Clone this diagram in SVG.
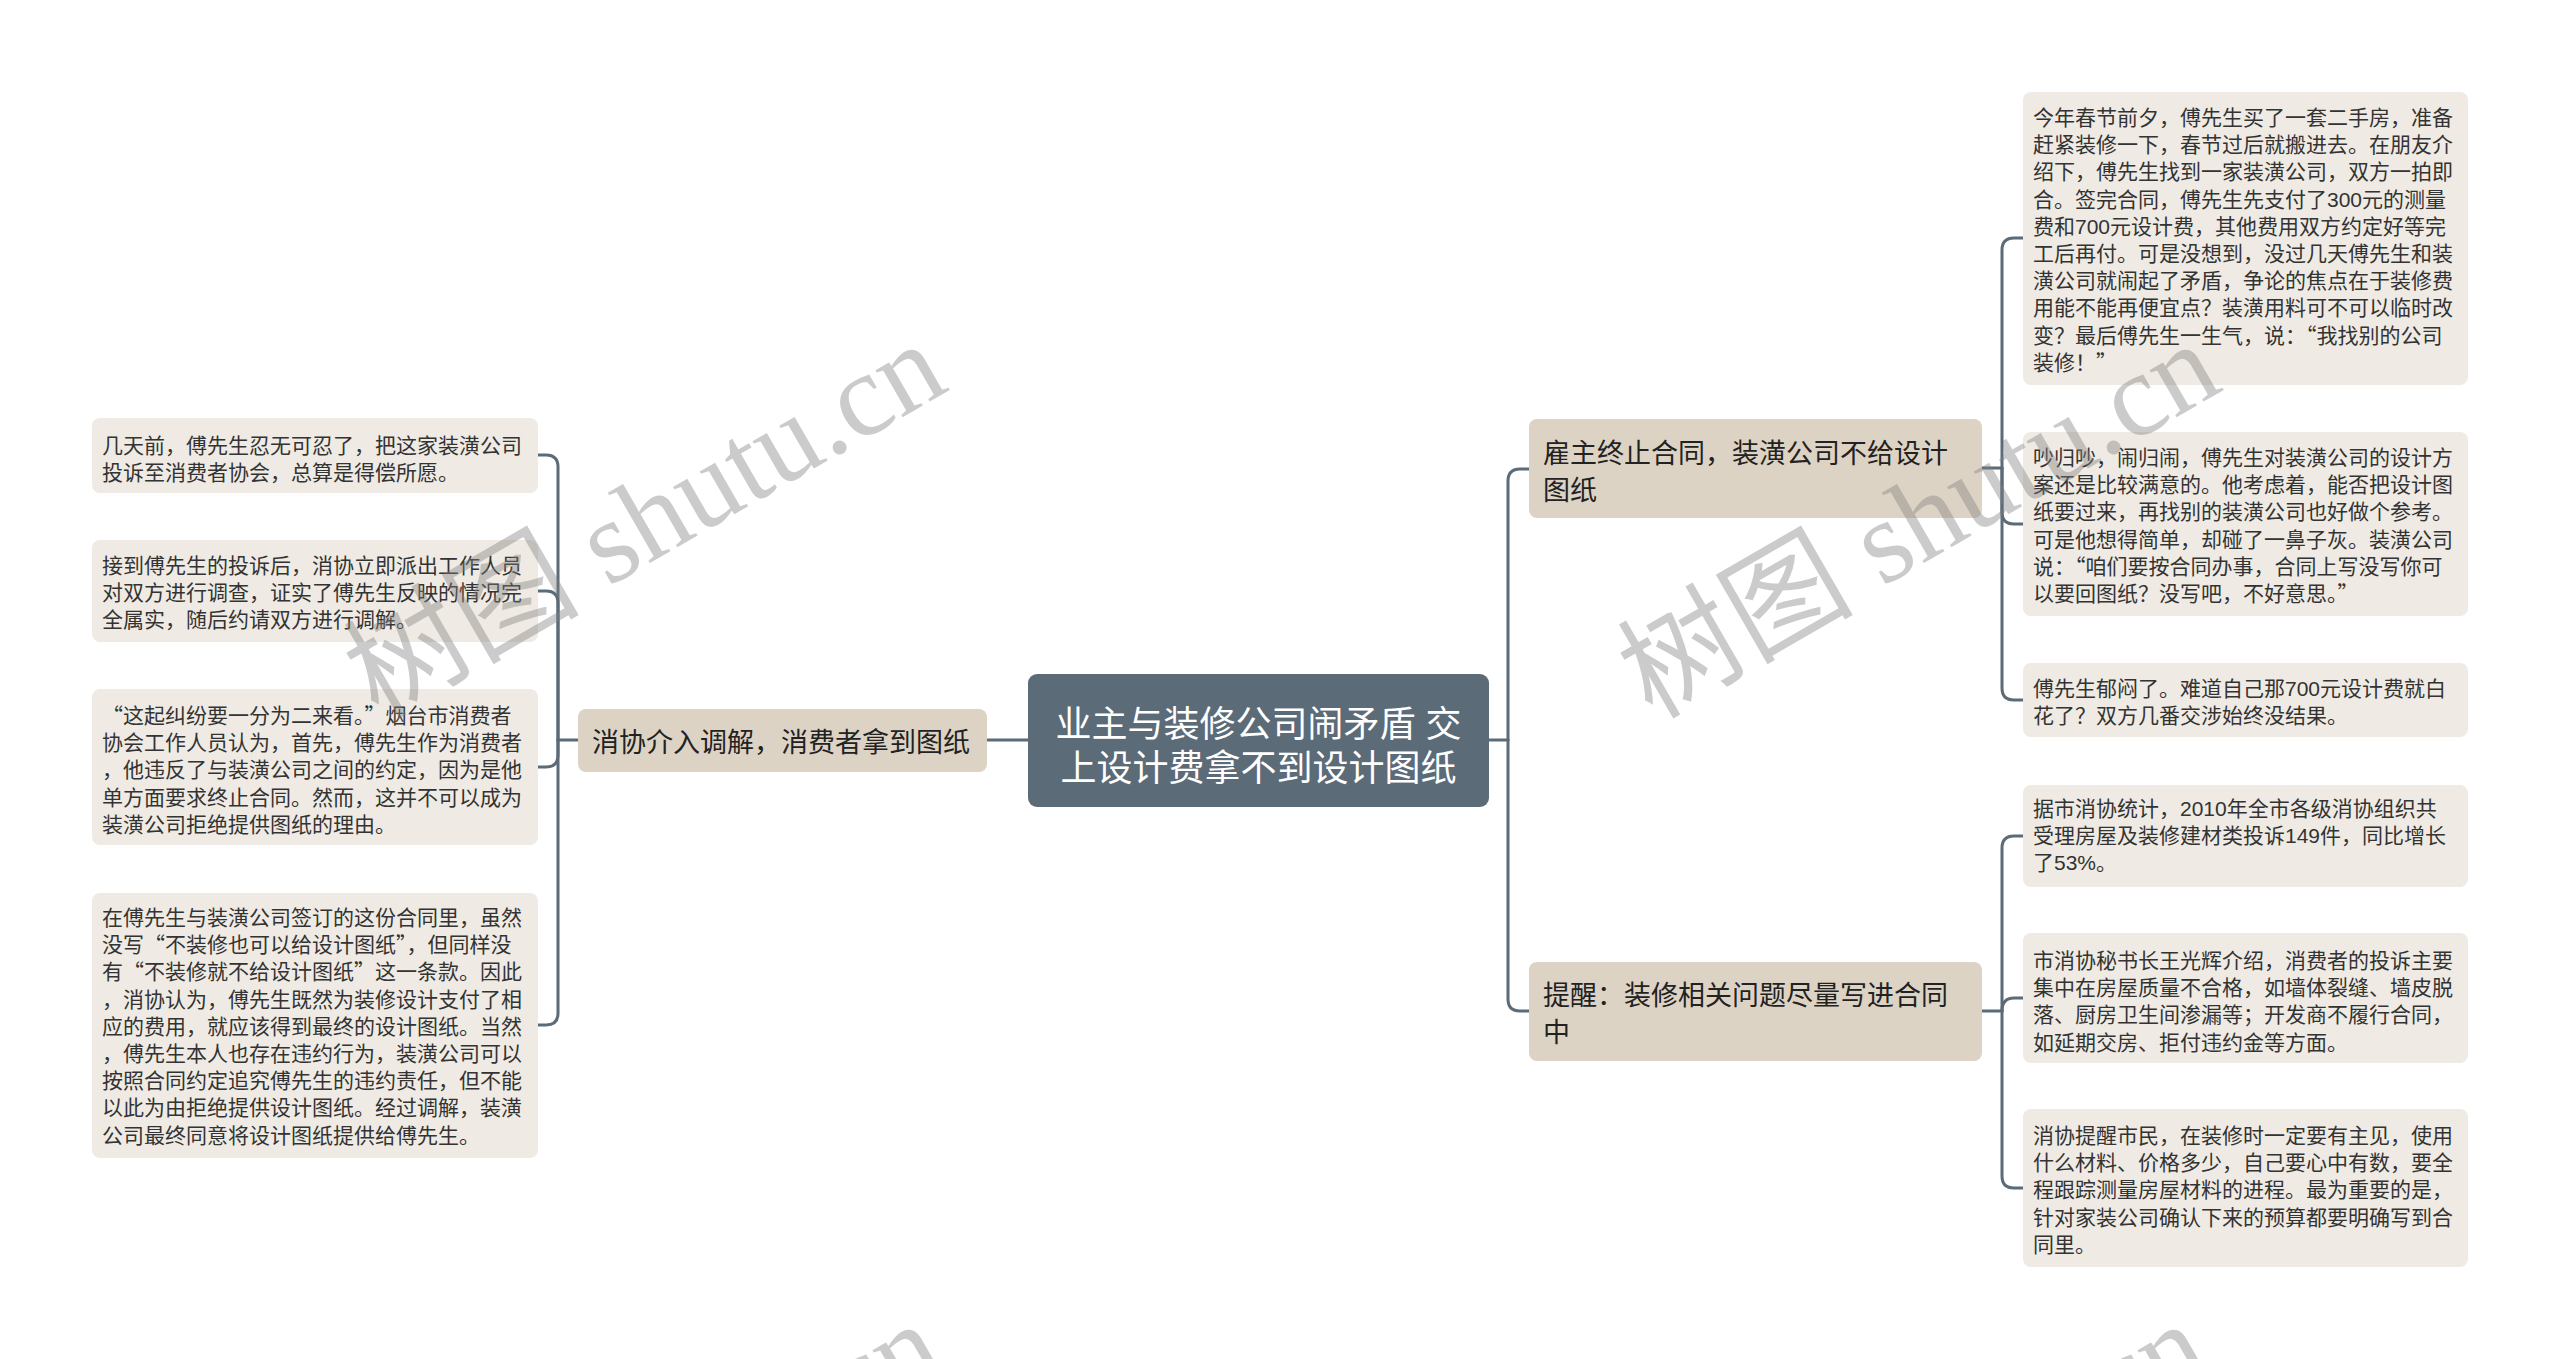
<svg xmlns="http://www.w3.org/2000/svg" width="2560" height="1359" viewBox="0 0 2560 1359">
<style>
.conn{fill:none;stroke:#5b6b78;stroke-width:3;stroke-linecap:round}
.root rect{fill:#5c6b78}
.root text{fill:#ffffff;font-size:36px;text-anchor:middle}
.branch rect{fill:#ddd3c4}
.branch text{fill:#222222;font-size:27px}
.leaf rect{fill:#efebe4}
.leaf text{fill:#333333;font-size:21px}
text{font-family:"Liberation Sans","Noto Sans CJK SC",sans-serif}
.q{font-family:"Noto Sans CJK SC","Liberation Sans",sans-serif}
.wm{fill:#808080;opacity:0.4;font-size:118px;font-family:"Liberation Serif","Noto Sans CJK SC",serif}
</style>
<rect x="0" y="0" width="2560" height="1359" fill="#ffffff"/>
<g id="connectors">
<path class="conn" d="M1028,740 H987"/>
<path class="conn" d="M1489,740 H1508"/>
<path class="conn" d="M1508,740 V481 Q1508,469 1520,469 H1529"/>
<path class="conn" d="M1508,740 V999 Q1508,1011 1520,1011 H1529"/>
<path class="conn" d="M1982,468 H2002"/>
<path class="conn" d="M2002,468 V250 Q2002,238 2014,238 H2023"/>
<path class="conn" d="M2002,468 V512 Q2002,524 2014,524 H2023"/>
<path class="conn" d="M2002,468 V688 Q2002,700 2014,700 H2023"/>
<path class="conn" d="M1982,1011 H2002"/>
<path class="conn" d="M2002,1011 V848 Q2002,836 2014,836 H2023"/>
<path class="conn" d="M2002,1011 Q2002,998 2014,998 H2023"/>
<path class="conn" d="M2002,1011 V1176 Q2002,1188 2014,1188 H2023"/>
<path class="conn" d="M578,740 H558"/>
<path class="conn" d="M558,740 V467 Q558,455 546,455 H538"/>
<path class="conn" d="M558,740 V603 Q558,591 546,591 H538"/>
<path class="conn" d="M558,740 V755 Q558,767 546,767 H538"/>
<path class="conn" d="M558,740 V1013 Q558,1025 546,1025 H538"/>
</g>
<g id="root" class="root">
<rect x="1028" y="674" width="461" height="133" rx="9"/>
<text x="1258.5" y="737">业主与装修公司闹矛盾 交</text>
<text x="1258.5" y="781">上设计费拿不到设计图纸</text>
</g>
<g id="branch-terminate" class="branch">
<rect x="1529" y="419" width="453" height="99" rx="8"/>
<text x="1543" y="463">雇主终止合同，装潢公司不给设计</text>
<text x="1543" y="500">图纸</text>
</g>
<g id="branch-remind" class="branch">
<rect x="1529" y="962" width="453" height="99" rx="8"/>
<text x="1543" y="1005">提醒：装修相关问题尽量写进合同</text>
<text x="1543" y="1042">中</text>
</g>
<g id="branch-mediate" class="branch">
<rect x="578" y="709" width="409" height="63" rx="8"/>
<text x="592" y="752">消协介入调解，消费者拿到图纸</text>
</g>
<g id="leaf-r1" class="leaf">
<rect x="2023" y="92" width="445" height="293" rx="8"/>
<text x="2033" y="125"><tspan x="2033">今年春节前夕，傅先生买了一套二手房，准备</tspan><tspan x="2033" dy="27.2">赶紧装修一下，春节过后就搬进去。在朋友介</tspan><tspan x="2033" dy="27.2">绍下，傅先生找到一家装潢公司，双方一拍即</tspan><tspan x="2033" dy="27.2">合。签完合同，傅先生先支付了300元的测量</tspan><tspan x="2033" dy="27.2">费和700元设计费，其他费用双方约定好等完</tspan><tspan x="2033" dy="27.2">工后再付。可是没想到，没过几天傅先生和装</tspan><tspan x="2033" dy="27.2">潢公司就闹起了矛盾，争论的焦点在于装修费</tspan><tspan x="2033" dy="27.2">用能不能再便宜点？装潢用料可不可以临时改</tspan><tspan x="2033" dy="27.2">变？最后傅先生一生气，说：<tspan class="q">“</tspan>我找别的公司</tspan><tspan x="2033" dy="27.2">装修！<tspan class="q">”</tspan></tspan></text>
</g>
<g id="leaf-r2" class="leaf">
<rect x="2023" y="432" width="445" height="184" rx="8"/>
<text x="2033" y="465"><tspan x="2033">吵归吵，闹归闹，傅先生对装潢公司的设计方</tspan><tspan x="2033" dy="27.2">案还是比较满意的。他考虑着，能否把设计图</tspan><tspan x="2033" dy="27.2">纸要过来，再找别的装潢公司也好做个参考。</tspan><tspan x="2033" dy="27.2">可是他想得简单，却碰了一鼻子灰。装潢公司</tspan><tspan x="2033" dy="27.2">说：<tspan class="q">“</tspan>咱们要按合同办事，合同上写没写你可</tspan><tspan x="2033" dy="27.2">以要回图纸？没写吧，不好意思。<tspan class="q">”</tspan></tspan></text>
</g>
<g id="leaf-r3" class="leaf">
<rect x="2023" y="663" width="445" height="74" rx="8"/>
<text x="2033" y="696"><tspan x="2033">傅先生郁闷了。难道自己那700元设计费就白</tspan><tspan x="2033" dy="27.2">花了？双方几番交涉始终没结果。</tspan></text>
</g>
<g id="leaf-r4" class="leaf">
<rect x="2023" y="785" width="445" height="102" rx="8"/>
<text x="2033" y="816"><tspan x="2033">据市消协统计，2010年全市各级消协组织共</tspan><tspan x="2033" dy="27.2">受理房屋及装修建材类投诉149件，同比增长</tspan><tspan x="2033" dy="27.2">了53%。</tspan></text>
</g>
<g id="leaf-r5" class="leaf">
<rect x="2023" y="933" width="445" height="130" rx="8"/>
<text x="2033" y="968"><tspan x="2033">市消协秘书长王光辉介绍，消费者的投诉主要</tspan><tspan x="2033" dy="27.2">集中在房屋质量不合格，如墙体裂缝、墙皮脱</tspan><tspan x="2033" dy="27.2">落、厨房卫生间渗漏等；开发商不履行合同，</tspan><tspan x="2033" dy="27.2">如延期交房、拒付违约金等方面。</tspan></text>
</g>
<g id="leaf-r6" class="leaf">
<rect x="2023" y="1109" width="445" height="158" rx="8"/>
<text x="2033" y="1143"><tspan x="2033">消协提醒市民，在装修时一定要有主见，使用</tspan><tspan x="2033" dy="27.2">什么材料、价格多少，自己要心中有数，要全</tspan><tspan x="2033" dy="27.2">程跟踪测量房屋材料的进程。最为重要的是，</tspan><tspan x="2033" dy="27.2">针对家装公司确认下来的预算都要明确写到合</tspan><tspan x="2033" dy="27.2">同里。</tspan></text>
</g>
<g id="leaf-l1" class="leaf">
<rect x="92" y="418" width="446" height="75" rx="8"/>
<text x="102" y="453"><tspan x="102">几天前，傅先生忍无可忍了，把这家装潢公司</tspan><tspan x="102" dy="27.2">投诉至消费者协会，总算是得偿所愿。</tspan></text>
</g>
<g id="leaf-l2" class="leaf">
<rect x="92" y="540" width="446" height="102" rx="8"/>
<text x="102" y="573"><tspan x="102">接到傅先生的投诉后，消协立即派出工作人员</tspan><tspan x="102" dy="27.2">对双方进行调查，证实了傅先生反映的情况完</tspan><tspan x="102" dy="27.2">全属实，随后约请双方进行调解。</tspan></text>
</g>
<g id="leaf-l3" class="leaf">
<rect x="92" y="689" width="446" height="156" rx="8"/>
<text x="102" y="723"><tspan x="102"><tspan class="q">“</tspan>这起纠纷要一分为二来看。<tspan class="q">”</tspan>烟台市消费者</tspan><tspan x="102" dy="27.2">协会工作人员认为，首先，傅先生作为消费者</tspan><tspan x="102" dy="27.2">，他违反了与装潢公司之间的约定，因为是他</tspan><tspan x="102" dy="27.2">单方面要求终止合同。然而，这并不可以成为</tspan><tspan x="102" dy="27.2">装潢公司拒绝提供图纸的理由。</tspan></text>
</g>
<g id="leaf-l4" class="leaf">
<rect x="92" y="893" width="446" height="265" rx="8"/>
<text x="102" y="925"><tspan x="102">在傅先生与装潢公司签订的这份合同里，虽然</tspan><tspan x="102" dy="27.2">没写<tspan class="q">“</tspan>不装修也可以给设计图纸<tspan class="q">”</tspan>，但同样没</tspan><tspan x="102" dy="27.2">有<tspan class="q">“</tspan>不装修就不给设计图纸<tspan class="q">”</tspan>这一条款。因此</tspan><tspan x="102" dy="27.2">，消协认为，傅先生既然为装修设计支付了相</tspan><tspan x="102" dy="27.2">应的费用，就应该得到最终的设计图纸。当然</tspan><tspan x="102" dy="27.2">，傅先生本人也存在违约行为，装潢公司可以</tspan><tspan x="102" dy="27.2">按照合同约定追究傅先生的违约责任，但不能</tspan><tspan x="102" dy="27.2">以此为由拒绝提供设计图纸。经过调解，装潢</tspan><tspan x="102" dy="27.2">公司最终同意将设计图纸提供给傅先生。</tspan></text>
</g>
<g id="watermark">
<text class="wm" x="378" y="720" transform="rotate(-30 378 720)">树图 shutu.cn</text>
<text class="wm" x="1652" y="720" transform="rotate(-30 1652 720)">树图 shutu.cn</text>
<text class="wm" x="375" y="1700" transform="rotate(-30 375 1700)">树图 shutu.cn</text>
<text class="wm" x="1640" y="1700" transform="rotate(-30 1640 1700)">树图 shutu.cn</text>
</g>
</svg>
